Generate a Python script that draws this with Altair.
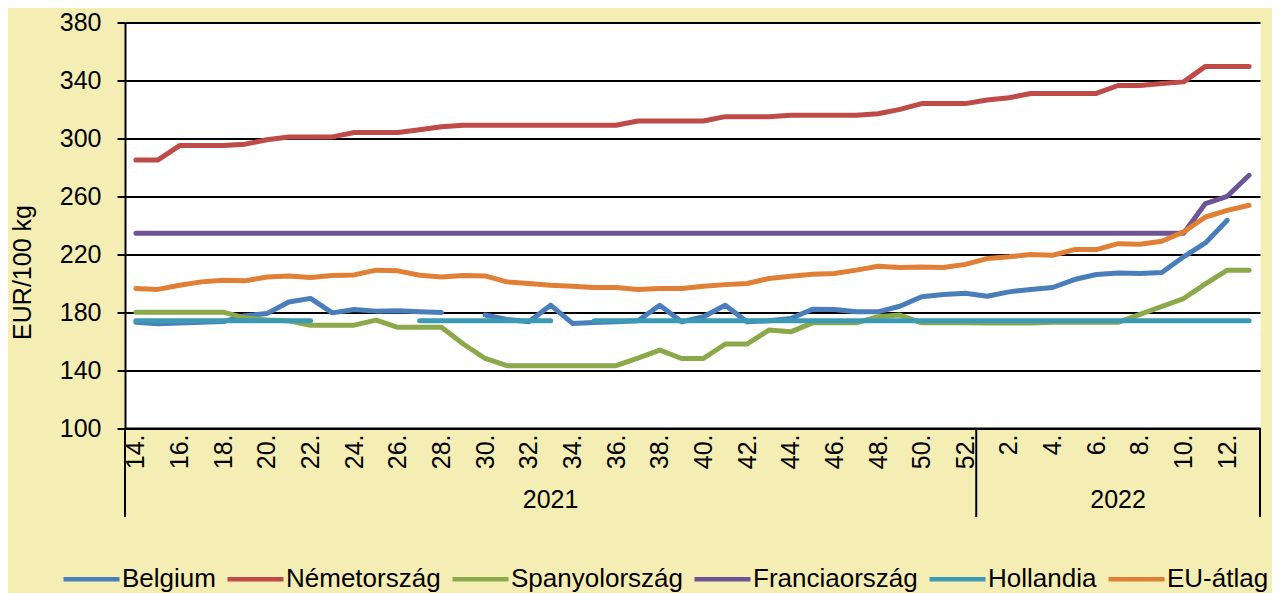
import altair as alt
import pandas as pd

# ---- categories ----
weeks_2021 = list(range(14, 53))
weeks_2022 = list(range(1, 14))
all_weeks = weeks_2021 + weeks_2022
week_labels = [f"{w}." for w in all_weeks]
year_names = ["2021", "2022"]

series_names = ["Belgium", "Németország", "Spanyolország", "Franciaország", "Hollandia", "EU-átlag"]
series_colors = ["#4A7EBB", "#BE4B48", "#8BA84B", "#6C5595", "#3D9AB4", "#E07F36"]

# ---- values (EUR/100 kg) ----
belgium = [173, 172, 172.5, 173, 173.5, 177.5, 179, 187, 189.5, 179.5, 181.8, 180.7, 180.9, 180.2, 179.8,
           None,
           178, 175, 173.3, 184.8, 172.2, 172.9, 173.3, 174, 184.8, 173.3, 176.8, 184.8, 173.3, 174, 175.6,
           182, 181.8, 180.2, 180.2, 184.1, 190.6, 192.2, 193,
           191, 194, 195.7, 197, 202.5, 206, 207.1, 206.7, 207.4, 218.2, 227.8, 243.4, None]
nemetorszag = [285, 285, 295, 295, 295, 296, 299, 301, 301, 301, 304, 304, 304, 306, 308, 309, 309, 309,
               309, 309, 309, 309, 309, 312, 312, 312, 312, 315, 315, 315, 316, 316, 316, 316, 317, 320,
               324, 324, 324,
               326.5, 328, 331, 331, 331, 331, 336.5, 336.5, 337.8, 339, 349.7, 349.7, 349.7]
spanyolorszag = [180, 180, 180, 180, 180, 176, 174.5, 174, 171, 171, 171, 174.5, 169.5, 169.5, 169.5,
                 158, 148, 143, 143, 143, 143, 143, 143, 148.3, 153.8, 148, 148, 158, 158, 167.6, 166.4,
                 172.6, 172.6, 172.6, 176.8, 178, 172.6, 172.6, 172.6,
                 172.5, 172.5, 172.5, 173, 173, 173, 173, 178.4, 183.9, 189.4, 199.5, 209, 209]
franciaorszag = [234.5] * 49 + [255, 260, 274.5]
hollandia = [174] * 9 + [None] * 4 + [174] * 7 + [None] + [174] * 18 + [174] * 13
eu_atlag = [196.3, 195.7, 198.6, 200.9, 202, 201.6, 204.3, 205, 203.9, 205.3, 205.7, 209, 208.5, 205.5,
            204.3, 205.3, 205, 200.9, 199.8, 198.6,
            197.9, 197, 197, 195.7, 196.3, 196.3, 197.9, 199, 199.8, 203.2, 204.8, 206.2, 206.7, 209,
            211.7, 210.8, 211.2, 210.8, 213,
            217, 218.2, 219.8, 219.3, 223.2, 223.2, 227.3, 226.9, 229, 235.4, 245.7, 250.3, 253.8]

series_values = [belgium, nemetorszag, spanyolorszag, franciaorszag, hollandia, eu_atlag]

rows = []
for name, vals in zip(series_names, series_values):
    for i, v in enumerate(vals):
        rows.append({"idx": i, "series": name, "value": v})
df = pd.DataFrame(rows)

n21 = len(weeks_2021)
n_all = len(all_weeks)
bounds_df = pd.DataFrame({"idx": [-0.5, n21 - 0.5, n_all - 0.5]})
years_df = pd.DataFrame({"idx": [(n21 - 1) / 2, n21 + (n_all - n21 - 1) / 2], "year": year_names})

label_idx = [i for i, w in enumerate(all_weeks) if w % 2 == 0]
label_expr = "[" + ",".join(f"'{l}'" for l in week_labels) + "][datum.value]"

W = 1135
H = 405.5

x_enc = alt.X(
    "idx:Q",
    scale=alt.Scale(domain=[-0.5, n_all - 0.5], nice=False, zero=False),
    axis=alt.Axis(
        values=label_idx,
        labelExpr=label_expr,
        labelAngle=270,
        labelAlign="right",
        labelBaseline="middle",
        labelPadding=6,
        labelFontSize=25,
        labelColor="black",
        ticks=False,
        grid=False,
        domainColor="black",
        domainWidth=2,
        title=None,
        labelOverlap=False,
    ),
)

y_enc = alt.Y(
    "value:Q",
    scale=alt.Scale(domain=[100, 380], nice=False, zero=False),
    axis=alt.Axis(
        values=list(range(100, 381, 40)),
        labelFontSize=25,
        labelColor="black",
        labelPadding=16,
        tickSize=8,
        tickColor="black",
        tickWidth=2,
        grid=True,
        gridColor="black",
        gridWidth=2,
        domainColor="black",
        domainWidth=2,
        title="EUR/100 kg",
        titleFontSize=25,
        titleFontWeight="normal",
        titleColor="black",
        titleAngle=270,
        titleBaseline="middle",
        titleAlign="center",
        titleX=-103,
        titleY=249.5,
    ),
)

color_enc = alt.Color(
    "series:N",
    scale=alt.Scale(domain=series_names, range=series_colors),
    legend=alt.Legend(
        title=None,
        orient="none",
        legendX=-64,
        legendY=526,
        direction="horizontal",
        symbolType="stroke",
        symbolSize=3136,
        symbolStrokeWidth=4.5,
        labelFontSize=26,
        labelColor="black",
        labelLimit=400,
        labelOffset=0,
        columnPadding=2,
        padding=0,
    ),
)

layers = []
for name in series_names:
    layers.append(
        alt.Chart(df)
        .transform_filter(alt.datum.series == name)
        .mark_line(strokeWidth=5, strokeCap="round", strokeJoin="round",
                   invalid="break-paths-show-domains")
        .encode(x=x_enc, y=y_enc, color=color_enc)
    )

rules = alt.Chart(bounds_df).mark_rule(color="black", strokeWidth=2).encode(
    x=x_enc, y=alt.value(H), y2=alt.value(494.5)
)
year_text = alt.Chart(years_df).mark_text(
    fontSize=25, color="black", align="center", baseline="middle"
).encode(x=x_enc, y=alt.value(477.5), text="year:N")

chart = (
    alt.layer(*layers, rules, year_text)
    .properties(
        width=W,
        height=H,
        autosize=alt.AutoSizeParams(type="none"),
        padding={"left": 117, "top": 14.5, "right": 12, "bottom": 165},
        background="#F5EEB4",
    )
    .configure(font="Liberation Sans")
    .configure_view(fill="white", stroke="transparent")
)

chart.save("out.html", embed_options={"renderer": "svg", "actions": False})
